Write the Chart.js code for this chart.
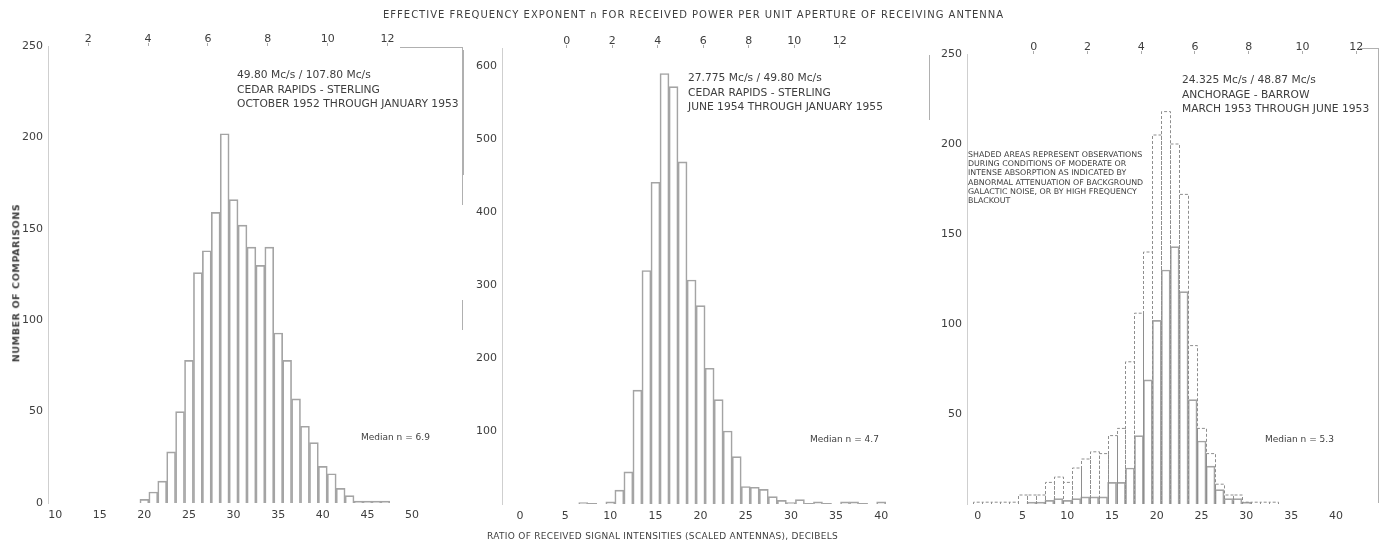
<!DOCTYPE html>
<html>
<head>
<meta charset="utf-8">
<script src="https://cdn.jsdelivr.net/npm/chart.js@4.4.1/dist/chart.umd.min.js"></script>
<style>
  body { margin: 0; background: #fff; width: 1384px; height: 547px; position: relative; overflow: hidden;
         font-family: 'DejaVu Sans', sans-serif; color: #3e3e3e; }
  canvas { position: absolute; top: 0; }
  .t { position: absolute; white-space: nowrap; line-height: 1; }
  .note { font-size: 10.7px; line-height: 14.5px; }
  .med { font-size: 9px; }
  .ln { position: absolute; background: #b0b0b0; }
</style>
</head>
<body>
<canvas id="c1" width="470" height="547" style="left:0"></canvas>
<canvas id="c2" width="470" height="547" style="left:470px"></canvas>
<canvas id="c3" width="444" height="547" style="left:940px"></canvas>

<div class="t" style="left:383px; top:10px; font-size:10px; letter-spacing:1px;">EFFECTIVE FREQUENCY EXPONENT n FOR RECEIVED POWER PER UNIT APERTURE OF RECEIVING ANTENNA</div>
<div class="t" style="left:487px; top:532px; font-size:9px; letter-spacing:0.3px;">RATIO OF RECEIVED SIGNAL INTENSITIES (SCALED ANTENNAS), DECIBELS</div>
<div class="t" style="left:16px; top:283px; font-size:9.5px; font-weight:bold; letter-spacing:0.6px; transform:translate(-50%,-50%) rotate(-90deg);">NUMBER OF COMPARISONS</div>

<div class="t note" style="left:237px; top:68px;">49.80 Mc/s / 107.80 Mc/s<br>CEDAR RAPIDS - STERLING<br>OCTOBER 1952 THROUGH JANUARY 1953</div>
<div class="t note" style="left:688px; top:71px;">27.775 Mc/s / 49.80 Mc/s<br>CEDAR RAPIDS - STERLING<br>JUNE 1954 THROUGH JANUARY 1955</div>
<div class="t note" style="left:1182px; top:73px;">24.325 Mc/s / 48.87 Mc/s<br>ANCHORAGE - BARROW<br>MARCH 1953 THROUGH JUNE 1953</div>
<div class="t" style="left:968px; top:150px; font-size:7.9px; line-height:9.2px;">SHADED AREAS REPRESENT OBSERVATIONS<br>DURING CONDITIONS OF MODERATE OR<br>INTENSE ABSORPTION AS INDICATED BY<br>ABNORMAL ATTENUATION OF BACKGROUND<br>GALACTIC NOISE, OR BY HIGH FREQUENCY<br>BLACKOUT</div>
<div class="t med" style="left:361px; top:433px;">Median n = 6.9</div>
<div class="t med" style="left:810px; top:435px;">Median n = 4.7</div>
<div class="t med" style="left:1265px; top:435px;">Median n = 5.3</div>

<div class="ln" style="left:462px; top:47px; width:1px; height:158px;"></div>
<div class="ln" style="left:462px; top:300px; width:1px; height:30px;"></div>
<div class="ln" style="left:463px; top:50px; width:1px; height:125px;"></div>
<div class="ln" style="left:929px; top:55px; width:1px; height:65px;"></div>
<div class="ln" style="left:1378px; top:48px; width:1px; height:455px;"></div>
<div class="ln" style="left:400px; top:47px; width:62px; height:1px;"></div>
<div class="ln" style="left:1360px; top:48px; width:18px; height:1px;"></div>

<script>
// panel 1: 49.80 / 107.80 Mc/s, Cedar Rapids - Sterling
const p1Bins   = [20, 21, 22, 23, 24, 25, 26, 27, 28, 29, 30, 31, 32, 33, 34, 35, 36, 37, 38, 39, 40, 41, 42, 43, 44, 45, 46, 47];
const p1Counts = [2, 6, 12, 28, 50, 78, 126, 138, 159, 202, 166, 152, 140, 130, 140, 93, 78, 57, 42, 33, 20, 16, 8, 4, 1, 1, 1, 1];

// panel 2: 27.775 / 49.80 Mc/s, Cedar Rapids - Sterling
const p2Bins   = [7, 8, 9, 10, 11, 12, 13, 14, 15, 16, 17, 18, 19, 20, 21, 22, 23, 24, 25, 26, 27, 28, 29, 30, 31, 32, 33, 34, 35, 36, 37, 38, 39, 40];
const p2Counts = [2, 1, 0, 3, 19, 44, 156, 320, 441, 590, 572, 469, 307, 272, 186, 143, 100, 65, 24, 23, 20, 10, 5, 2, 6, 1, 3, 1, 0, 3, 3, 1, 0, 3];

// panel 3: 24.325 / 48.87 Mc/s, Anchorage - Barrow (total incl. shaded, and unshaded part)
const p3Bins     = [0, 1, 2, 3, 4, 5, 6, 7, 8, 9, 10, 11, 12, 13, 14, 15, 16, 17, 18, 19, 20, 21, 22, 23, 24, 25, 26, 27, 28, 29, 30, 31, 32, 33];
const p3Total    = [1, 1, 1, 1, 1, 5, 5, 5, 12, 15, 12, 20, 25, 29, 28, 38, 42, 79, 106, 140, 205, 218, 200, 172, 88, 42, 28, 11, 5, 5, 1, 1, 1, 1];
const p3Unshaded = [0, 0, 0, 0, 0, 0, 1, 1, 2, 3, 2, 3, 4, 4, 4, 12, 12, 20, 38, 69, 102, 130, 143, 118, 58, 35, 21, 8, 3, 3, 1, 0, 0, 0];

// tick labels
const p1XTicks = [10, 15, 20, 25, 30, 35, 40, 45, 50];
const p23XTicks = [0, 5, 10, 15, 20, 25, 30, 35, 40];
const p1YTicks = [0, 50, 100, 150, 200, 250];
const p2YTicks = [100, 200, 300, 400, 500, 600];
const p3YTicks = [50, 100, 150, 200, 250];
const p1NTicks = [2, 4, 6, 8, 10, 12];
const p23NTicks = [0, 2, 4, 6, 8, 10, 12];

const LINE = '#a4a4a4';
const TEXT = '#3e3e3e';

// strokes dashed outlines on bars of datasets flagged "dashed"
const dashOutline = {
  id: 'dashOutline',
  afterDatasetsDraw(chart) {
    const ctx = chart.ctx;
    chart.data.datasets.forEach((ds, i) => {
      if (!ds.dashed) return;
      const meta = chart.getDatasetMeta(i);
      ctx.save();
      ctx.setLineDash([3, 2]);
      ctx.strokeStyle = ds.dashColor;
      ctx.lineWidth = 1;
      meta.data.forEach(bar => {
        const p = bar.getProps(['x', 'y', 'base', 'width'], true);
        if (Math.abs(p.base - p.y) < 0.5) return;
        const l = Math.round(p.x - p.width / 2) + 0.5;
        const r = Math.round(p.x + p.width / 2) + 0.5;
        ctx.beginPath();
        ctx.moveTo(l, p.base);
        ctx.lineTo(l, p.y);
        ctx.lineTo(r, p.y);
        ctx.lineTo(r, p.base);
        ctx.stroke();
      });
      ctx.restore();
    });
  }
};

function pts(bins, vals) {
  return bins.map((b, i) => ({ x: b, y: vals[i] }));
}

function solidSet(bins, vals) {
  return {
    data: pts(bins, vals),
    backgroundColor: 'rgba(255,255,255,0)',
    borderColor: LINE,
    borderWidth: { left: 1, right: 1, top: 1, bottom: 0 },
    barPercentage: 1,
    categoryPercentage: 1,
    grouped: false
  };
}

function dashedSet(bins, vals) {
  return {
    data: pts(bins, vals),
    backgroundColor: 'rgba(255,255,255,0)',
    borderWidth: 0,
    barPercentage: 1,
    categoryPercentage: 1,
    grouped: false,
    dashed: true,
    dashColor: '#8e8e8e'
  };
}

// force exact range and tick list on a scale
function fix(list, min, max) {
  return s => {
    s.ticks = list.map(v => ({ value: v }));
    s.min = min;
    s.max = max;
  };
}

function makePanel(id, datasets, o) {
  const font = { family: "'DejaVu Sans', sans-serif", size: 11 };
  const nMin = (o.xMin - o.nOff) / o.nK;
  const nMax = (o.xMax - o.nOff) / o.nK;
  new Chart(document.getElementById(id), {
    type: 'bar',
    data: { datasets: datasets },
    plugins: [dashOutline],
    options: {
      responsive: false,
      animation: false,
      layout: { padding: { left: 0, right: o.padR, top: 0, bottom: 0 } },
      plugins: { legend: { display: false }, tooltip: { enabled: false } },
      scales: {
        x: {
          type: 'linear',
          position: 'bottom',
          min: o.xMin,
          max: o.xMax,
          offset: false,
          ticks: { color: TEXT, font: font, padding: 6, maxRotation: 0, autoSkip: false },
          afterBuildTicks: fix(o.xTicks, o.xMin, o.xMax),
          grid: { display: false, drawTicks: false },
          border: { display: false },
          afterFit: s => { s.height = o.botH; }
        },
        n: {
          type: 'linear',
          axis: 'x',
          position: 'top',
          min: nMin,
          max: nMax,
          offset: false,
          ticks: { color: TEXT, font: font, padding: -3, maxRotation: 0, autoSkip: false },
          afterBuildTicks: fix(o.nTicks, nMin, nMax),
          grid: { display: true, offset: false, drawOnChartArea: false, drawTicks: true, tickLength: 3, color: '#aaa' },
          border: { display: false },
          afterFit: s => { s.height = o.topH; }
        },
        y: {
          min: 0,
          max: o.yMax,
          ticks: { color: TEXT, font: font, padding: 5 },
          afterBuildTicks: fix(o.yTicks, 0, o.yMax),
          grid: { display: false, drawTicks: false },
          border: { display: true, color: '#cfcfcf' },
          afterFit: s => { s.width = o.yW; }
        }
      }
    }
  });
}

makePanel('c1', [solidSet(p1Bins, p1Counts)], {
  padR: 8, yW: 48, topH: 46, botH: 44,
  xMin: 9.2, xMax: 55.6, xTicks: p1XTicks,
  yMax: 250, yTicks: p1YTicks,
  nOff: 7.0, nK: 3.354, nTicks: p1NTicks
});

makePanel('c2', [solidSet(p2Bins, p2Counts)], {
  padR: 11, yW: 32, topH: 48, botH: 43,
  xMin: -2.0, xMax: 45.3, xTicks: p23XTicks,
  yMax: 625, yTicks: p2YTicks,
  nOff: 5.17, nK: 2.52, nTicks: p23NTicks
});

makePanel('c3', [dashedSet(p3Bins, p3Total), solidSet(p3Bins, p3Unshaded)], {
  padR: 6, yW: 27, topH: 54, botH: 43,
  xMin: -1.2, xMax: 44.7, xTicks: p23XTicks,
  yMax: 250, yTicks: p3YTicks,
  nOff: 6.26, nK: 3.0, nTicks: p23NTicks
});
</script>
</body>
</html>
